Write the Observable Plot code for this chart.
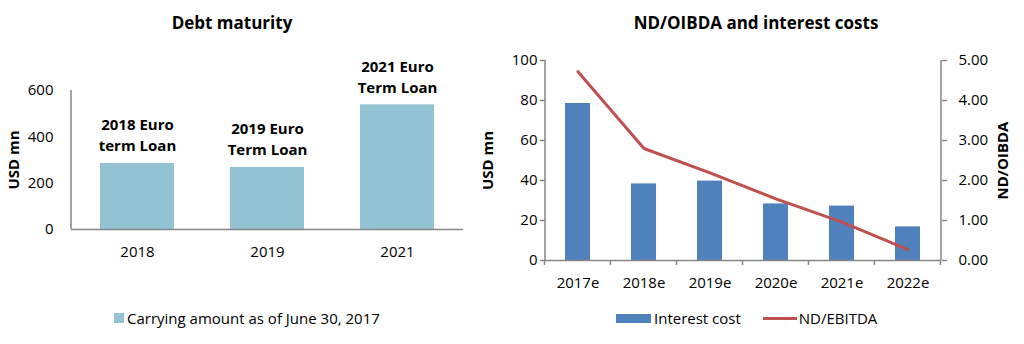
<!DOCTYPE html>
<html>
<head>
<meta charset="utf-8">
<script src="https://cdn.jsdelivr.net/npm/d3@7"></script>
<script src="https://cdn.jsdelivr.net/npm/@observablehq/plot@0.6"></script>
<style>
  body { margin: 0; background: #fff; font-family: "Open Sans", sans-serif; color: #000; }
  #wrap { position: relative; width: 1024px; height: 344px; overflow: hidden; }
  .abs { position: absolute; }
  .title { font-weight: bold; font-size: 17px; white-space: nowrap; transform: translate(-50%, -50%); }
  .leg { font-size: 15px; white-space: nowrap; display: flex; align-items: center; transform: translateY(-50%); }
  .sw { display: inline-block; }
</style>
</head>
<body>
<div id="wrap">
  <div class="abs title" style="left:232px; top:22px;">Debt maturity</div>
  <div class="abs title" style="left:756px; top:22px;">ND/OIBDA and interest costs</div>
  <div id="left" class="abs" style="left:0; top:0;"></div>
  <div id="right" class="abs" style="left:480px; top:0;"></div>
  <div class="abs leg" style="left:114px; top:318px;">
    <span class="sw" style="width:10px;height:10px;background:#93C2D3;margin-right:3px;"></span><span id="legLeft"></span>
  </div>
  <div class="abs leg" style="left:616px; top:318px;">
    <span class="sw" style="width:35px;height:9px;background:#4F81BD;margin-right:3px;"></span><span id="legInt"></span>
    <span class="sw" style="width:34px;height:3px;background:#C0504D;margin-left:22px;margin-right:2px;"></span><span id="legNd"></span>
  </div>
</div>
<script>
// ---- Data: Debt maturity ----
const maturityYears = ["2018", "2019", "2021"];
const carryingAmount = [285, 268, 538];
const loanLabels = ["2018 Euro\nterm Loan", "2019 Euro\nTerm Loan", "2021 Euro\nTerm Loan"];
const debtTicks = [0, 200, 400, 600];
const debtSeriesName = "Carrying amount as of June 30, 2017";

// ---- Data: ND/OIBDA and interest costs ----
const forecastYears = ["2017e", "2018e", "2019e", "2020e", "2021e", "2022e"];
const interestCost = [78.5, 38.3, 39.7, 28.3, 27.2, 16.8];
const ndEbitda = [4.72, 2.80, 2.19, 1.54, 0.96, 0.27];
const usdTicks = [0, 20, 40, 60, 80, 100];
const ratioTicks = [0, 1, 2, 3, 4, 5];
const interestName = "Interest cost";
const ratioName = "ND/EBITDA";

document.getElementById("legLeft").textContent = debtSeriesName;
document.getElementById("legInt").textContent = interestName;
document.getElementById("legNd").textContent = ratioName;

const axisGray = "#868686";
const baseStyle = { fontFamily: "Open Sans", fontSize: "15px", color: "#000", background: "transparent", overflow: "visible" };

// ---- Left chart ----
const debt = maturityYears.map((year, i) => ({ year, amount: carryingAmount[i], label: loanLabels[i] }));
const left = Plot.plot({
  width: 480, height: 300,
  marginLeft: 71, marginRight: 17, marginTop: 90, marginBottom: 71,
  style: baseStyle,
  x: { domain: maturityYears, paddingInner: 0.43, paddingOuter: 0.215, align: 0.5, label: null },
  y: { domain: [0, 600], label: null },
  marks: [
    Plot.barY(debt, { x: "year", y: "amount", fill: "#93C2D3" }),
    Plot.axisY({ ticks: debtTicks, tickSize: 0, tickPadding: 18, fill: "#000", label: null }),
    Plot.ruleY([0], { stroke: axisGray, strokeWidth: 1.5 }),
    Plot.axisX({ tickSize: 0, tickPadding: 17, fill: "#000", label: null }),
    Plot.text(debt, { x: "year", y: "amount", text: "label", lineAnchor: "bottom", lineHeight: 1.4, dy: -12, fontWeight: "bold", fontSize: 15, fill: "#000" }),
    Plot.text(["USD mn"], { frameAnchor: "left", textAnchor: "middle", dx: -57, rotate: -90, fontWeight: "bold", fontSize: 15, fill: "#000" })
  ]
});
document.getElementById("left").appendChild(left);

// ---- Right chart ----
const k = 20; // ratio axis (0–5) aligned to USD axis (0–100)
const fc = forecastYears.map((year, i) => ({ year, interest: interestCost[i], ratio: ndEbitda[i] }));
const right = Plot.plot({
  width: 544, height: 300,
  marginLeft: 65, marginRight: 83, marginTop: 60, marginBottom: 40,
  style: baseStyle,
  x: { domain: forecastYears, paddingInner: 0.62, paddingOuter: 0.31, align: 0.5, label: null },
  y: { domain: [0, 100], label: null },
  marks: [
    Plot.barY(fc, { x: "year", y: "interest", fill: "#4F81BD" }),
    Plot.axisY({ anchor: "left", ticks: usdTicks, tickSize: 5, tickPadding: 3, stroke: axisGray, strokeWidth: 1.5, fill: "#000", label: null }),
    Plot.axisY(ratioTicks.map(t => t * k), { anchor: "right", tickFormat: d => (d / k).toFixed(2), tickSize: 5, tickPadding: 12, stroke: axisGray, strokeWidth: 1.5, fill: "#000", label: null }),
    Plot.ruleY([0], { stroke: axisGray, strokeWidth: 1.5 }),
    Plot.axisX({ tickSize: 0, tickPadding: 17, fill: "#000", label: null }),
    Plot.line(fc, { x: "year", y: d => d.ratio * k, stroke: "#C0504D", strokeWidth: 3 }),
    Plot.text(["USD mn"], { frameAnchor: "left", textAnchor: "middle", dx: -57, rotate: -90, fontWeight: "bold", fontSize: 15, fill: "#000" }),
    Plot.text(["ND/OIBDA"], { frameAnchor: "right", textAnchor: "middle", dx: 62, rotate: -90, fontWeight: "bold", fontSize: 15, fill: "#000" })
  ]
});
document.getElementById("right").appendChild(right);

// Axis lines, drawn from Plot's own scales
function vline(svg, x, yA, yB) {
  d3.select(svg).append("line")
    .attr("x1", x).attr("x2", x).attr("y1", yA).attr("y2", yB)
    .attr("stroke", axisGray).attr("stroke-width", 1.5);
}
{
  const xs = left.scale("x"), ys = left.scale("y");
  vline(left, xs.range[0], ys.apply(0), ys.apply(600));
}
{
  const xs = right.scale("x"), ys = right.scale("y");
  vline(right, xs.range[0], ys.apply(0), ys.apply(100));
  vline(right, xs.range[1], ys.apply(0), ys.apply(100));
  // Category-boundary tick marks on the x axis
  const gap = (xs.step - xs.bandwidth) / 2;
  const bounds = forecastYears.map(c => xs.apply(c) - gap)
    .concat([xs.apply(forecastYears[forecastYears.length - 1]) + xs.bandwidth + gap]);
  const y0 = ys.apply(0);
  d3.select(right).append("g")
    .selectAll("line").data(bounds).join("line")
    .attr("x1", d => d).attr("x2", d => d)
    .attr("y1", y0).attr("y2", y0 + 5)
    .attr("stroke", axisGray).attr("stroke-width", 1.5);
}
</script>
</body>
</html>
